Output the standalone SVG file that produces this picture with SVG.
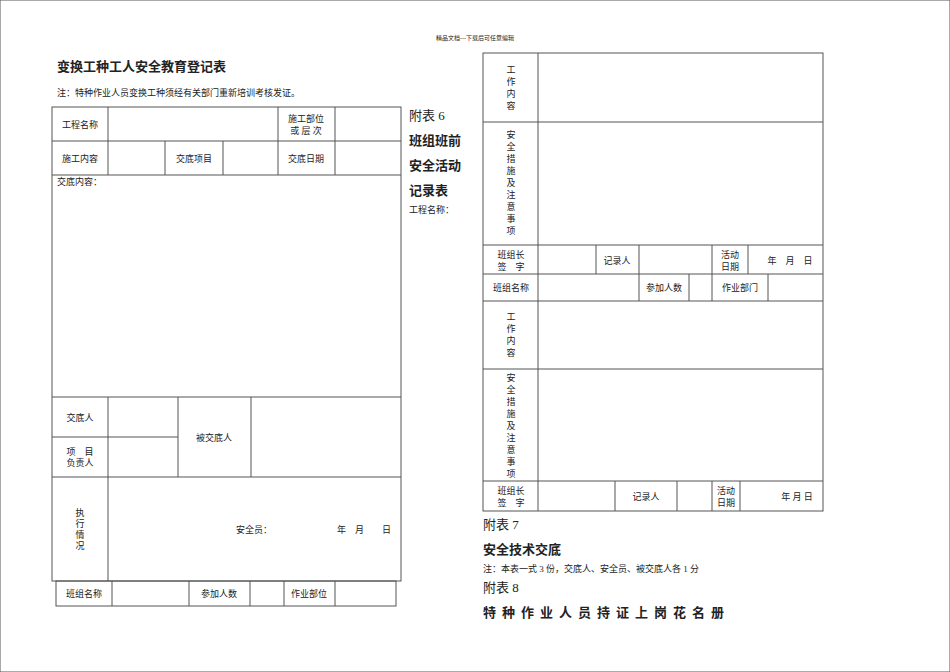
<svg xmlns="http://www.w3.org/2000/svg" width="950" height="672" viewBox="0 0 950 672">
<style>
text{font-family:"Liberation Serif","Noto Sans CJK SC",serif;fill:#222}
.s{font-size:9px}
.m{font-size:13px}
.b{font-size:13px;font-weight:bold;font-family:"Noto Sans CJK SC",sans-serif}
.c{text-anchor:middle}
line,rect{stroke:#555;stroke-width:1;fill:none}
</style>
<rect width="950" height="672" fill="#fff" stroke="none"/>
<text x="475" y="40" class="c" style="font-size:6px">精品文档---下载后可任意编辑</text>
<g id="left-head">
<text x="57" y="71" class="b">变换工种工人安全教育登记表</text>
<text x="57" y="96" class="s">注：特种作业人员变换工种须经有关部门重新培训考核发证。</text>
</g>
<g id="left-table">
<rect x="52" y="107" width="349" height="474"/>
<line x1="52" y1="141" x2="401" y2="141"/><line x1="52" y1="175" x2="401" y2="175"/>
<line x1="52" y1="397" x2="401" y2="397"/><line x1="52" y1="437" x2="178" y2="437"/><line x1="52" y1="477" x2="401" y2="477"/>
<line x1="108" y1="107" x2="108" y2="175"/><line x1="278" y1="107" x2="278" y2="175"/><line x1="335" y1="107" x2="335" y2="175"/>
<line x1="165" y1="141" x2="165" y2="175"/><line x1="223" y1="141" x2="223" y2="175"/>
<line x1="108" y1="397" x2="108" y2="581"/><line x1="178" y1="397" x2="178" y2="477"/><line x1="251" y1="397" x2="251" y2="477"/>
<text x="80" y="128" class="s c">工程名称</text>
<text x="306" y="122" class="s c">施工部位</text><text x="306" y="134" class="s c">或 层 次</text>
<text x="80" y="162" class="s c">施工内容</text><text x="194" y="162" class="s c">交底项目</text><text x="306" y="162" class="s c">交底日期</text>
<text x="57" y="185" class="s">交底内容：</text>
<text x="80" y="421" class="s c">交底人</text>
<text x="80" y="455" class="s c">项　目</text><text x="80" y="466" class="s c">负责人</text>
<text x="214" y="441" class="s c">被交底人</text>
<text x="80" y="516" class="s c">执</text><text x="80" y="527" class="s c">行</text><text x="80" y="538" class="s c">情</text><text x="80" y="549" class="s c">况</text>
<text x="236" y="533" class="s">安全员：</text><text x="337" y="533" class="s">年　月　　日</text>
</g>
<g id="left-bottom">
<rect x="56" y="581" width="340" height="25"/>
<line x1="112" y1="581" x2="112" y2="606"/><line x1="189" y1="581" x2="189" y2="606"/><line x1="250" y1="581" x2="250" y2="606"/><line x1="284" y1="581" x2="284" y2="606"/><line x1="335" y1="581" x2="335" y2="606"/>
<text x="84" y="597" class="s c">班组名称</text><text x="219" y="597" class="s c">参加人数</text><text x="309" y="597" class="s c">作业部位</text>
</g>
<g id="mid-text">
<text x="409" y="120" class="m">附表 6</text>
<text x="409" y="145" class="b">班组班前</text>
<text x="409" y="170" class="b">安全活动</text>
<text x="409" y="195" class="b">记录表</text>
<text x="409" y="213" class="s">工程名称：</text>
</g>
<g id="right-table">
<rect x="483" y="53" width="340" height="458"/>
<line x1="483" y1="122" x2="823" y2="122"/><line x1="483" y1="245" x2="823" y2="245"/><line x1="483" y1="274" x2="823" y2="274"/><line x1="483" y1="301" x2="823" y2="301"/><line x1="483" y1="369" x2="823" y2="369"/><line x1="483" y1="481" x2="823" y2="481"/>
<line x1="538" y1="53" x2="538" y2="511"/>
<line x1="596" y1="245" x2="596" y2="274"/><line x1="639" y1="245" x2="639" y2="301"/><line x1="712" y1="245" x2="712" y2="301"/><line x1="748" y1="245" x2="748" y2="274"/>
<line x1="689" y1="274" x2="689" y2="301"/><line x1="768" y1="274" x2="768" y2="301"/>
<line x1="615" y1="481" x2="615" y2="511"/><line x1="677" y1="481" x2="677" y2="511"/><line x1="712" y1="481" x2="712" y2="511"/><line x1="740" y1="481" x2="740" y2="511"/>
<text x="511" y="73" class="s c">工</text><text x="511" y="85" class="s c">作</text><text x="511" y="97" class="s c">内</text><text x="511" y="109" class="s c">容</text>
<text x="511" y="138" class="s c">安</text><text x="511" y="150" class="s c">全</text><text x="511" y="162" class="s c">措</text><text x="511" y="174" class="s c">施</text><text x="511" y="186" class="s c">及</text><text x="511" y="198" class="s c">注</text><text x="511" y="210" class="s c">意</text><text x="511" y="222" class="s c">事</text><text x="511" y="234" class="s c">项</text>
<text x="511" y="258" class="s c">班组长</text><text x="511" y="270" class="s c">签　字</text>
<text x="617" y="264" class="s c">记录人</text>
<text x="730" y="258" class="s c">活动</text><text x="730" y="270" class="s c">日期</text>
<text x="790" y="264" class="s c">年　月　日</text>
<text x="511" y="291" class="s c">班组名称</text><text x="664" y="291" class="s c">参加人数</text><text x="740" y="291" class="s c">作业部门</text>
<text x="511" y="320" class="s c">工</text><text x="511" y="332" class="s c">作</text><text x="511" y="344" class="s c">内</text><text x="511" y="356" class="s c">容</text>
<text x="511" y="381" class="s c">安</text><text x="511" y="393" class="s c">全</text><text x="511" y="405" class="s c">措</text><text x="511" y="417" class="s c">施</text><text x="511" y="429" class="s c">及</text><text x="511" y="441" class="s c">注</text><text x="511" y="453" class="s c">意</text><text x="511" y="465" class="s c">事</text><text x="511" y="477" class="s c">项</text>
<text x="511" y="494" class="s c">班组长</text><text x="511" y="506" class="s c">签　字</text>
<text x="646" y="500" class="s c">记录人</text>
<text x="726" y="494" class="s c">活动</text><text x="726" y="506" class="s c">日期</text>
<text x="797" y="500" class="s c">年 月 日</text>
</g>
<g id="right-text">
<text x="483" y="529" class="m">附表 7</text>
<text x="483" y="554" class="b">安全技术交底</text>
<text x="483" y="572" class="s">注：本表一式 3 份，交底人、安全员、被交底人各 1 分</text>
<text x="483" y="592" class="m">附表 8</text>
<text x="483" y="617" class="b" style="letter-spacing:6px">特种作业人员持证上岗花名册</text>
</g>
</svg>
